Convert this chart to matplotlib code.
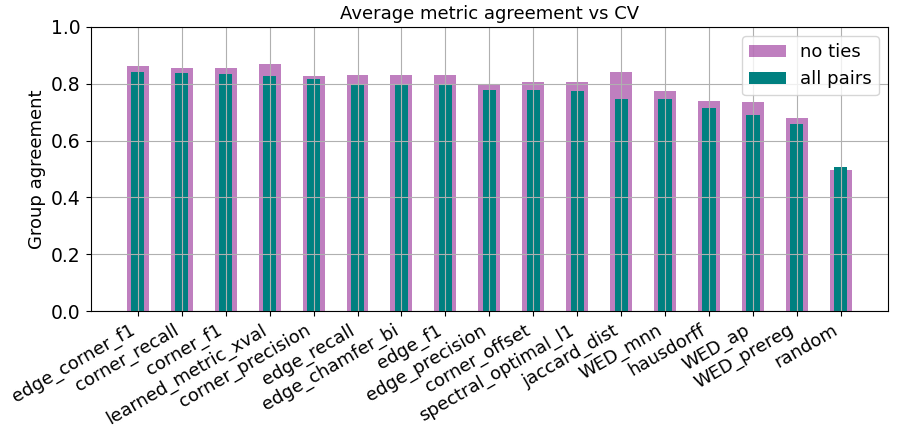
import numpy as np
import matplotlib
matplotlib.use("Agg")
import matplotlib.pyplot as plt

metrics = ["edge_corner_f1", "corner_recall", "corner_f1", "learned_metric_xval",
           "corner_precision", "edge_recall", "edge_chamfer_bi", "edge_f1",
           "edge_precision", "corner_offset", "spectral_optimal_l1", "jaccard_dist",
           "WED_mnn", "hausdorff", "WED_ap", "WED_prereg", "random"]
no_ties = [0.862, 0.854, 0.856, 0.870, 0.827, 0.830, 0.831, 0.830,
           0.800, 0.806, 0.805, 0.842, 0.775, 0.741, 0.735, 0.681, 0.495]
all_pairs = [0.843, 0.838, 0.833, 0.827, 0.817, 0.798, 0.798, 0.797,
             0.778, 0.777, 0.775, 0.746, 0.745, 0.716, 0.689, 0.660, 0.507]

fig, ax = plt.subplots(figsize=(8.97, 4.34), dpi=100)
x = np.arange(len(metrics))
ax.bar(x, no_ties, width=0.5, color="purple", alpha=0.5, label="no ties")
ax.bar(x, all_pairs, width=0.3, color="teal", label="all pairs")
ax.set_xticks(x)
ax.set_xticklabels(metrics, rotation=30, ha="right", fontsize=13)
ax.tick_params(axis="y", labelsize=13.5)
ax.set_ylim(0, 1)
ax.set_ylabel("Group agreement", fontsize=13)
ax.set_title("Average metric agreement vs CV", fontsize=13)
ax.grid(True)
ax.legend(loc="upper right", fontsize=13)
fig.subplots_adjust(left=0.101, right=0.990, top=0.938, bottom=0.283)
fig.savefig("out.png")
